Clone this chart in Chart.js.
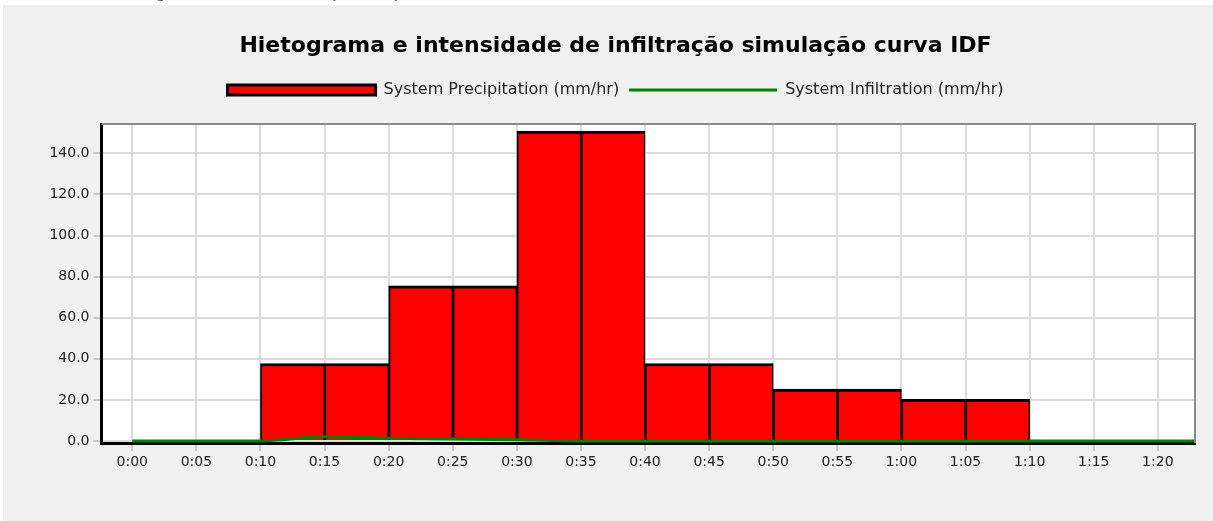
<!DOCTYPE html>
<html>
<head>
<meta charset="utf-8">
<script src="https://cdn.jsdelivr.net/npm/chart.js@4.4.0/dist/chart.umd.min.js"></script>
<style>
    body { margin: 0; background: #fff; overflow: hidden; }
    #legenda-doc { position: absolute; left: 125px; top: -14.5px; font: 14.3px/14.3px "Liberation Serif", serif; white-space: nowrap; color: #000; }
    #painel { position: absolute; left: 3px; top: 5px; width: 1210px; height: 516px; background: #f0f0f0; }
</style>
</head>
<body>
<div id="legenda-doc">Hietograma e intensidade de infiltração simulação curva IDF</div>
<div id="painel"><canvas id="hietograma" width="1210" height="516"></canvas></div>
<script>
// blocos de 5 min: inicio do bloco (min) e intensidade (mm/hr)
const inicioBlocos = [10, 15, 20, 25, 30, 35, 40, 45, 50, 55, 60, 65];
const precipitacao = [37.7, 37.7, 75.5, 75.5, 150.8, 150.8, 37.7, 37.7, 25.2, 25.2, 20.3, 20.3];

// infiltracao do sistema (mm/hr)
const tempoInfiltracao = [0, 5, 10, 15, 20, 25, 30, 35, 40, 45, 50, 55, 60, 65, 70, 75, 80, 85];
const infiltracao = [0, 0, 0, 2.1, 1.3, 1.0, 0.6, 0, 0, 0, 0, 0, 0, 0, 0, 0, 0, 0];

const ticksX = [0, 5, 10, 15, 20, 25, 30, 35, 40, 45, 50, 55, 60, 65, 70, 75, 80];
const rotulosX = ['0:00', '0:05', '0:10', '0:15', '0:20', '0:25', '0:30', '0:35', '0:40',
    '0:45', '0:50', '0:55', '1:00', '1:05', '1:10', '1:15', '1:20'];
const ticksY = [0, 20, 40, 60, 80, 100, 120, 140];

Chart.defaults.font.family = 'DejaVu Sans';

// fundo branco da area do grafico e moldura cinza em cima/direita
const moldura = {
    id: 'moldura',
    beforeDraw(chart) {
        const { ctx, chartArea: a } = chart;
        ctx.save();
        ctx.fillStyle = '#ffffff';
        ctx.fillRect(a.left, a.top, a.right - a.left, a.bottom - a.top);
        ctx.restore();
    },
    afterDraw(chart) {
        const { ctx, chartArea: a } = chart;
        ctx.save();
        ctx.strokeStyle = '#8a8a8a';
        ctx.lineWidth = 2;
        ctx.beginPath();
        ctx.moveTo(a.left, a.top);
        ctx.lineTo(a.right, a.top);
        ctx.lineTo(a.right, a.bottom);
        ctx.stroke();
        ctx.restore();
    }
};

// espaco extra entre a legenda e o grafico
const folgaLegenda = {
    id: 'folgaLegenda',
    beforeInit(chart) {
        const fitOriginal = chart.legend.fit;
        chart.legend.fit = function () {
            fitOriginal.call(this);
            this.height += 16;
        };
    }
};

const corTexto = '#222';
const corGrade = '#dcdcdc';

const config = {
    data: {
        datasets: [
            {
                type: 'bar',
                label: 'System Precipitation (mm/hr)',
                data: inicioBlocos.map((t, i) => ({ x: t + 2.5, y: precipitacao[i] })),
                backgroundColor: '#ff0000',
                borderColor: '#000000',
                borderWidth: { top: 3, left: 2, right: 1.5, bottom: 0 },
                borderSkipped: false,
                barPercentage: 1,
                categoryPercentage: 1,
                order: 2
            },
            {
                type: 'line',
                label: 'System Infiltration (mm/hr)',
                data: tempoInfiltracao.map((t, i) => ({ x: t, y: infiltracao[i] })),
                borderColor: '#008000',
                borderWidth: 3,
                pointRadius: 0,
                cubicInterpolationMode: 'monotone',
                order: 1
            }
        ]
    },
    options: {
        responsive: false,
        animation: false,
        layout: { padding: { left: 33, right: 18, top: 0, bottom: 38 } },
        plugins: {
            title: {
                display: true,
                text: 'Hietograma e intensidade de infiltração simulação curva IDF',
                color: '#000',
                font: { size: 22, weight: 'bold' },
                padding: { top: 27.8, bottom: 12.8 }
            },
            legend: {
                position: 'top',
                labels: {
                    color: corTexto,
                    font: { size: 16 },
                    padding: 10,
                    usePointStyle: true,
                    pointStyleWidth: 148,
                    boxHeight: 10,
                    generateLabels: chart => [
                        { text: chart.data.datasets[0].label, datasetIndex: 0, fillStyle: '#ff0000',
                          strokeStyle: '#000', lineWidth: 3, pointStyle: 'rect', fontColor: corTexto },
                        { text: chart.data.datasets[1].label, datasetIndex: 1, fillStyle: '#008000',
                          strokeStyle: '#008000', lineWidth: 3, pointStyle: 'line', fontColor: corTexto }
                    ]
                }
            },
            tooltip: { enabled: false }
        },
        scales: {
            x: {
                type: 'linear',
                min: -2.4,
                max: 82.9,
                offset: false,
                afterBuildTicks: s => { s.ticks = ticksX.map(v => ({ value: v })); },
                afterFit: s => { s.height = 40; },
                ticks: {
                    color: corTexto,
                    font: { size: 14 },
                    padding: 3,
                    maxRotation: 0,
                    autoSkip: false,
                    callback: v => rotulosX[ticksX.indexOf(v)]
                },
                grid: { offset: false, color: corGrade, lineWidth: 2, tickLength: 8, tickColor: '#c8c8c8' },
                border: { color: '#000', width: 3 }
            },
            y: {
                min: -1,
                max: 154.3,
                afterBuildTicks: s => { s.ticks = ticksY.map(v => ({ value: v })); },
                afterFit: s => { s.width = 65.5; },
                ticks: {
                    color: corTexto,
                    font: { size: 14 },
                    padding: 4,
                    callback: v => v.toFixed(1)
                },
                grid: { color: corGrade, lineWidth: 2, tickLength: 8, tickColor: '#c8c8c8' },
                border: { color: '#000', width: 3 }
            }
        }
    },
    plugins: [moldura, folgaLegenda]
};

new Chart(document.getElementById('hietograma').getContext('2d'), config);
</script>
</body>
</html>
